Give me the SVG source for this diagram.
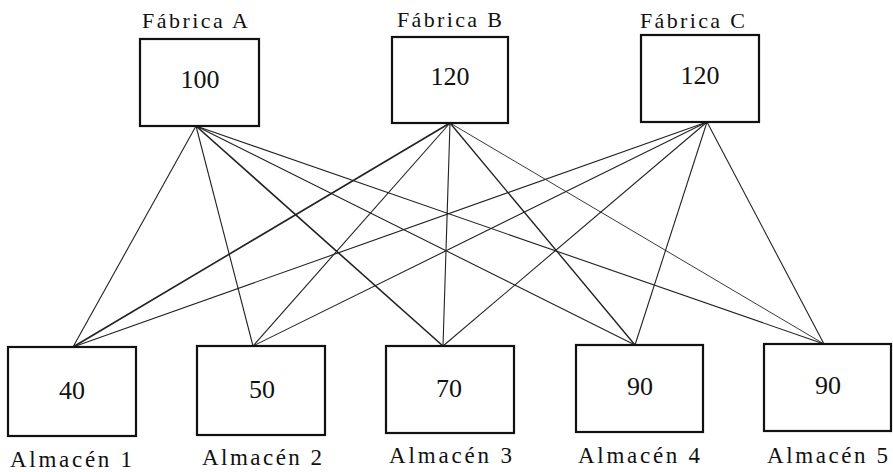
<svg xmlns="http://www.w3.org/2000/svg" width="893" height="472" viewBox="0 0 893 472">
<style>
.box{fill:#fff;stroke:#111;stroke-width:2.2}
.c line{stroke:#222;stroke-width:1.1}
</style>
<rect width="893" height="472" fill="#fff"/>
<g class="c" id="connectors">
<line x1="196" y1="126" x2="73" y2="347"/>
<line x1="196" y1="126" x2="253" y2="346"/>
<line x1="196" y1="126" x2="443" y2="346" style="stroke-width:1.6"/>
<line x1="196" y1="126" x2="635" y2="345"/>
<line x1="196" y1="126" x2="824" y2="344"/>
<line x1="450" y1="123" x2="73" y2="347" style="stroke-width:1.6"/>
<line x1="450" y1="123" x2="253" y2="346"/>
<line x1="450" y1="123" x2="443" y2="346"/>
<line x1="450" y1="123" x2="635" y2="345" style="stroke-width:1.4"/>
<line x1="450" y1="123" x2="824" y2="344" style="stroke-width:0.9"/>
<line x1="707" y1="122" x2="73" y2="347"/>
<line x1="707" y1="122" x2="253" y2="346"/>
<line x1="707" y1="122" x2="443" y2="346"/>
<line x1="707" y1="122" x2="635" y2="345"/>
<line x1="707" y1="122" x2="824" y2="344"/>
</g>
<g font-family="Liberation Serif, Times New Roman, serif" fill="#111">
<g id="fabricaA">
<rect class="box" x="140" y="39" width="119" height="87"/>
<text x="200" y="88" font-size="26" text-anchor="middle">100</text>
<text x="142" y="28" font-size="22" textLength="106" lengthAdjust="spacing">Fábrica A</text>
</g>
<g id="fabricaB">
<rect class="box" x="392" y="37" width="116" height="86"/>
<text x="450" y="85" font-size="26" text-anchor="middle">120</text>
<text x="397" y="27" font-size="22" textLength="105" lengthAdjust="spacing">Fábrica B</text>
</g>
<g id="fabricaC">
<rect class="box" x="641" y="35" width="118" height="87"/>
<text x="700" y="84" font-size="26" text-anchor="middle">120</text>
<text x="640" y="28" font-size="22" textLength="105" lengthAdjust="spacing">Fábrica C</text>
</g>
<g id="almacen1">
<rect class="box" x="8" y="347" width="128" height="89"/>
<text x="72" y="399" font-size="26" text-anchor="middle">40</text>
<text x="10" y="467" font-size="23" textLength="122" lengthAdjust="spacing">Almacén 1</text>
</g>
<g id="almacen2">
<rect class="box" x="197" y="346" width="128" height="89"/>
<text x="262" y="398" font-size="26" text-anchor="middle">50</text>
<text x="202" y="465" font-size="23" textLength="120" lengthAdjust="spacing">Almacén 2</text>
</g>
<g id="almacen3">
<rect class="box" x="386" y="346" width="128" height="87"/>
<text x="449" y="397" font-size="26" text-anchor="middle">70</text>
<text x="389" y="463" font-size="23" textLength="123" lengthAdjust="spacing">Almacén 3</text>
</g>
<g id="almacen4">
<rect class="box" x="576" y="345" width="127" height="87"/>
<text x="640" y="395" font-size="26" text-anchor="middle">90</text>
<text x="578" y="463" font-size="23" textLength="122" lengthAdjust="spacing">Almacén 4</text>
</g>
<g id="almacen5">
<rect class="box" x="764" y="344" width="127" height="87"/>
<text x="828" y="394" font-size="26" text-anchor="middle">90</text>
<text x="767" y="463" font-size="23" textLength="121" lengthAdjust="spacing">Almacén 5</text>
</g>
</g>
</svg>
